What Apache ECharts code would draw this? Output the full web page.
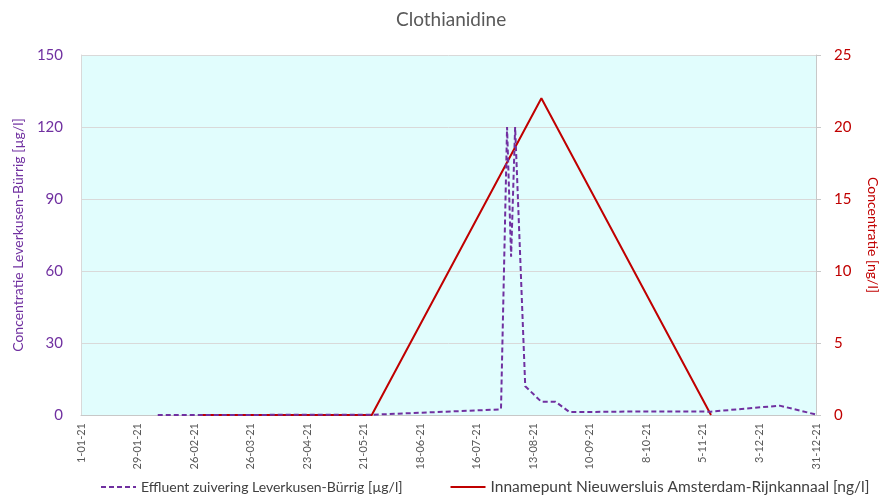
<!DOCTYPE html>
<html>
<head>
<meta charset="utf-8">
<script src="https://cdn.jsdelivr.net/npm/echarts@6/dist/echarts.min.js"></script>
<style>
  html, body { margin: 0; padding: 0; background: #ffffff; }
  #chart { width: 881px; height: 503px; }
</style>
</head>
<body>
<div id="chart"></div>
<script>
// Effluent Leverkusen-Bürrig (µg/l), sample dates and values
const effluentDates = [
  '2021-02-08', '2021-05-25', '2021-07-27', '2021-07-28', '2021-07-31',
  '2021-08-02', '2021-08-04', '2021-08-09', '2021-08-17', '2021-08-24',
  '2021-08-31', '2021-10-08', '2021-11-09', '2021-12-13', '2021-12-31'
];
const effluentValues = [0, 0.1, 2.3, 2.5, 120, 66, 120, 12, 5.5, 5.5, 1.2, 1.5, 1.4, 3.9, 0.2];

// Intake point Nieuwersluis (ng/l)
const intakeDates = ['2021-03-02', '2021-05-25', '2021-08-17', '2021-11-09'];
const intakeValues = [0, 0, 22, 0];

// Axis settings
const yearStart = '2021-01-01';
const yearEnd = '2021-12-31';
const dayStep = 28;
const leftTicks = [0, 30, 60, 90, 120, 150];
const rightTicks = [0, 5, 10, 15, 20, 25];

const DAY = 86400000;
const t0 = Date.UTC(2021, 0, 1);
function dayIndex(s) {
  const p = s.split('-').map(Number);
  return Math.round((Date.UTC(p[0], p[1] - 1, p[2]) - t0) / DAY);
}
function dayLabel(d) {
  const dt = new Date(t0 + d * DAY);
  const dd = dt.getUTCDate();
  const mm = String(dt.getUTCMonth() + 1).padStart(2, '0');
  const yy = String(dt.getUTCFullYear()).slice(2);
  return dd + '-' + mm + '-' + yy;
}

const purple = '#7030A0';
const red = '#C00000';
const font = 'Lato, "Noto Sans", sans-serif';

const effluentName = 'Effluent zuivering Leverkusen-Bürrig [µg/l]';
const intakeName = 'Innamepunt Nieuwersluis Amsterdam-Rijnkannaal [ng/l]';

const chart = echarts.init(document.getElementById('chart'), null, { renderer: 'canvas' });
chart.setOption({
  animation: false,
  textStyle: { fontFamily: font },
  title: {
    text: 'Clothianidine',
    left: 391,
    top: 5,
    textStyle: { color: '#595959', fontSize: 19, fontWeight: 'normal', fontFamily: font }
  },
  grid: {
    left: 81, right: 65, top: 55, bottom: 88,
    containLabel: false,
    outerBoundsMode: 'none',
    show: true,
    backgroundColor: '#E1FDFD',
    borderWidth: 0
  },
  legend: {
    bottom: 3,
    left: 95,
    itemWidth: 35,
    itemHeight: 10,
    itemGap: 47,
    itemStyle: { opacity: 0 },
    textStyle: { color: '#404040', fontSize: 14, fontFamily: font },
    data: [
      { name: effluentName, textStyle: { fontSize: 14 } },
      { name: intakeName, textStyle: { fontSize: 15.5 } }
    ]
  },
  xAxis: {
    type: 'value',
    min: dayIndex(yearStart),
    max: dayIndex(yearEnd),
    interval: dayStep,
    axisLine: { show: true, lineStyle: { color: '#C8C8C8', width: 1 } },
    axisTick: { show: false },
    splitLine: { show: false },
    axisLabel: {
      rotate: 90,
      margin: 8,
      color: '#595959',
      fontSize: 11,
      fontFamily: font,
      formatter: v => dayLabel(v)
    }
  },
  yAxis: [
    {
      type: 'value',
      min: leftTicks[0],
      max: leftTicks[leftTicks.length - 1],
      interval: leftTicks[1] - leftTicks[0],
      name: 'Concentratie Leverkusen-Bürrig [µg/l]',
      nameLocation: 'middle',
      nameGap: 56,
      nameTextStyle: { color: purple, fontSize: 14, fontFamily: font },
      axisLine: { show: true, lineStyle: { color: '#D9D9D9' } },
      axisTick: { show: false },
      axisLabel: { color: purple, fontSize: 15, margin: 18, fontFamily: font },
      splitLine: { show: true, lineStyle: { color: '#D9D9D9', width: 1 } }
    },
    {
      type: 'value',
      position: 'right',
      min: rightTicks[0],
      max: rightTicks[rightTicks.length - 1],
      interval: rightTicks[1] - rightTicks[0],
      name: 'Concentratie [ng/l]',
      nameLocation: 'middle',
      nameGap: 50,
      nameRotate: -90,
      nameTextStyle: { color: red, fontSize: 14, fontFamily: font },
      axisLine: { show: true, lineStyle: { color: '#C8C8C8' } },
      axisTick: { show: true, length: 5, lineStyle: { color: '#C8C8C8' } },
      axisLabel: { color: red, fontSize: 15, margin: 18, fontFamily: font },
      splitLine: { show: false }
    }
  ],
  series: [
    {
      name: effluentName,
      type: 'line',
      yAxisIndex: 0,
      symbol: 'none',
      color: purple,
      lineStyle: { color: purple, width: 2, type: [5, 3] },
      data: effluentDates.map((d, i) => [dayIndex(d), effluentValues[i]]),
      z: 3
    },
    {
      name: intakeName,
      type: 'line',
      yAxisIndex: 1,
      symbol: 'none',
      color: red,
      lineStyle: { color: red, width: 2 },
      data: intakeDates.map((d, i) => [dayIndex(d), intakeValues[i]]),
      z: 2
    }
  ]
});
</script>
</body>
</html>
